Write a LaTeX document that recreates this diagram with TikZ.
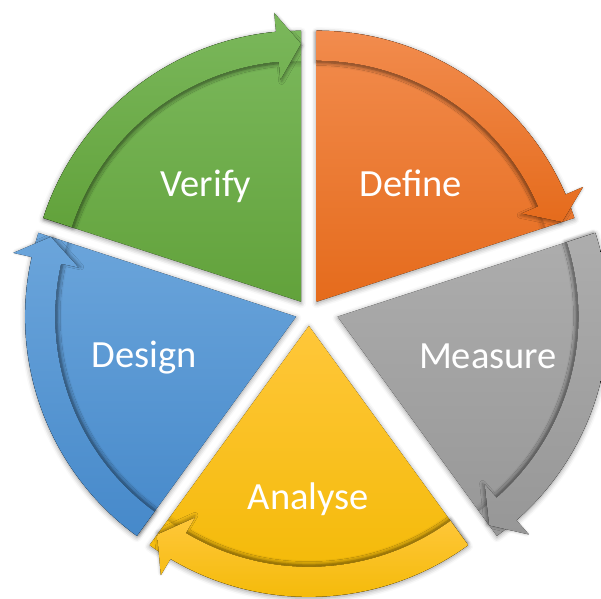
\documentclass[tikz,border=0pt]{standalone}
\usepackage{fontspec}
\setmainfont{Carlito}
\usetikzlibrary{calc,shadows.blur}
\definecolor{grnT}{HTML}{7BB85C}
\definecolor{grnB}{HTML}{62A23B}
\definecolor{orgT}{HTML}{F28C4E}
\definecolor{orgB}{HTML}{E56B1C}
\definecolor{gryT}{HTML}{ADADAD}
\definecolor{gryB}{HTML}{979797}
\definecolor{ylwT}{HTML}{FFC73A}
\definecolor{ylwB}{HTML}{F2B800}
\definecolor{bluT}{HTML}{6BA5DB}
\definecolor{bluB}{HTML}{4689CA}
\tikzset{
  softshadow/.style={blur shadow={shadow xshift=0pt,shadow yshift=-1.5pt,shadow blur radius=5pt,shadow opacity=40}},
  lbl/.style={anchor=base,text=white,font=\fontsize{38.5}{40}\selectfont,inner sep=0pt},
}
\newcommand\segpiece[5]{%
  \pgfmathsetmacro\shx{-2.2*cos((#2+#3)/2)}%
  \pgfmathsetmacro\shy{-2.2*sin((#2+#3)/2)}%
  \fill[softshadow,top color=#4,bottom color=#5] (#1) -- ($(#1)+(#2:271)$) arc[start angle=#2,end angle=#3,radius=271] -- cycle;
  \begin{scope}
    \clip (#1) -- ($(#1)+(#2:271)$) arc[start angle=#2,end angle=#3,radius=271] -- cycle;
    \foreach \rr/\oo in {239.5/0.16,237.5/0.09,235.5/0.04}
      \draw[black,opacity=\oo,line width=2pt] ($(#1)+(#2:\rr)$) arc[start angle=#2,end angle=#3,radius=\rr];
  \end{scope}
  \fill[blur shadow={shadow xshift=\shx pt,shadow yshift=\shy pt,shadow blur radius=3pt,shadow opacity=35},
        top color=#4,bottom color=#5] ($(#1)+(#2:271)$) arc[start angle=#2,end angle=#3+5.3,radius=271]
    -- ($(#1)+(#3+5.3:290)$) -- ($(#1)+(#3:258)$) -- ($(#1)+(#3+5.3:223)$) -- ($(#1)+(#3+5.3:241)$)
    arc[start angle=#3+5.3,end angle=#2,radius=241] -- cycle;
}
\begin{document}
\begin{tikzpicture}[x=1pt,y=1pt]
\useasboundingbox (0,0) rectangle (601,598);
\coordinate (C) at (308.85,285.5);
\coordinate (pDef) at ($(C)+(54:13.35)$);
\coordinate (pMea) at ($(C)+(-18:13.35)+(16,0)$);
\coordinate (pAna) at ($(C)+(-90:13.35)$);
\coordinate (pDes) at ($(C)+(198:13.35)$);
\coordinate (pVer) at ($(C)+(126:13.35)$);
\segpiece{pDef}{90}{18}{orgT}{orgB}
\segpiece{pMea}{18}{-54}{gryT}{gryB}
\segpiece{pAna}{-54}{-126}{ylwT}{ylwB}
\segpiece{pDes}{-126}{-198}{bluT}{bluB}
\segpiece{pVer}{162}{90}{grnT}{grnB}
\node[lbl] (verify) at (206,401.3) {Verify};
\node[lbl] (define) at (410.8,401.3) {Define};
\node[lbl] (measure) at (488,230) {Measure};
\node[lbl] (design) at (144.5,230.7) {Design};
\node[lbl] (analyse) at (308.3,88.3) {Analyse};
\end{tikzpicture}
\end{document}
